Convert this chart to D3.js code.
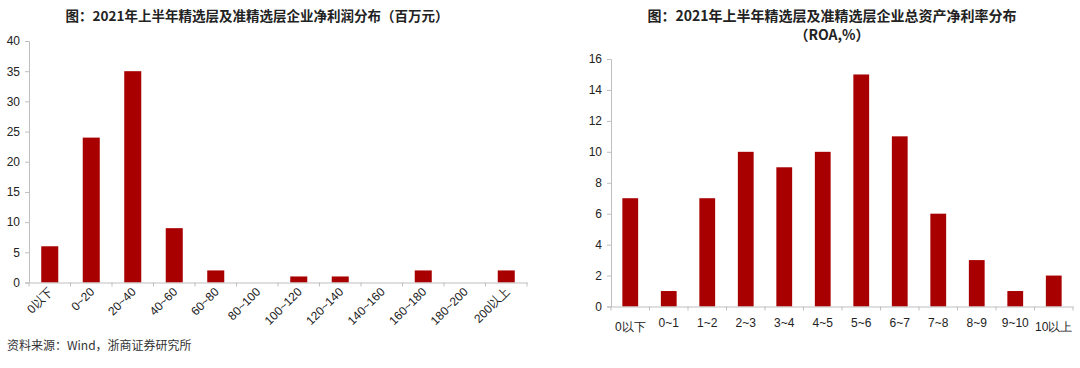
<!DOCTYPE html>
<html><head><meta charset="utf-8">
<script src="https://cdn.jsdelivr.net/npm/d3@7"></script>
<style>
body{margin:0;background:#fff;}
svg{display:block;font-family:"Liberation Sans",Arial,"Noto Sans CJK SC",sans-serif;}
</style></head>
<body><svg id="c" width="1080" height="368"></svg>
<script>
const profitCats = ["0以下","0~20","20~40","40~60","60~80","80~100","100~120","120~140","140~160","160~180","180~200","200以上"];
const profitVals = [6,24,35,9,2,0,1,1,0,2,0,2];
const profitTicks = [0,5,10,15,20,25,30,35,40];

const roaCats = ["0以下","0~1","1~2","2~3","3~4","4~5","5~6","6~7","7~8","8~9","9~10","10以上"];
const roaVals = [7,1,7,10,9,10,15,11,6,3,1,2];
const roaTicks = [0,2,4,6,8,10,12,14,16];

const titleL = "图：2021年上半年精选层及准精选层企业净利润分布（百万元）";
const titleR1 = "图：2021年上半年精选层及准精选层企业总资产净利率分布";
const titleR2 = "（ROA,%）";
const source = "资料来源：Wind，浙商证券研究所";

const svg = d3.select("#c");
const BAR = "#a80000", AX = "#bfbfbf", TXT = "#222";
const cjk = "'Noto Sans CJK SC',sans-serif";

function chart(cats, vals, ticks, box, rotate){
  const x = d3.scaleBand().domain(cats).range([box.x0, box.x1]).paddingInner(0.59).paddingOuter(0.295);
  const y = d3.scaleLinear().domain([0, d3.max(ticks)]).range([box.y0, box.y1]);
  const g = svg.append("g");
  g.selectAll("rect.bar").data(cats).join("rect")
    .attr("x", d=>x(d)).attr("width", x.bandwidth())
    .attr("y", (d,i)=>y(vals[i])).attr("height", (d,i)=>y(0)-y(vals[i]))
    .attr("fill", BAR);
  const ya = d3.axisLeft(y).tickValues(ticks).tickSize(4).tickPadding(5);
  const yg = g.append("g").attr("transform",`translate(${box.x0},0)`).call(ya);
  yg.select(".domain").attr("stroke",AX);
  yg.selectAll(".tick line").attr("stroke",AX);
  yg.selectAll("text").attr("fill",TXT).style("font-size","12px");
  const xa = d3.axisBottom(x).tickSize(0).tickSizeOuter(0);
  const xg = g.append("g").attr("transform",`translate(0,${box.y0})`).call(xa);
  xg.select(".domain").attr("stroke",AX);
  const bounds = d3.range(cats.length+1).map(i=>box.x0 + i*(box.x1-box.x0)/cats.length);
  xg.selectAll("line.bt").data(bounds).join("line").attr("class","bt")
    .attr("x1",d=>d).attr("x2",d=>d).attr("y1",0).attr("y2",4).attr("stroke",AX);
  xg.selectAll(".tick text").attr("fill",TXT).style("font-size","12px");
  if(rotate){
    xg.selectAll(".tick text")
      .attr("text-anchor","end").attr("dy","0").attr("y",0)
      .attr("transform","translate(4,10) rotate(-45)");
  } else {
    xg.selectAll(".tick text").attr("y",11)
      .attr("dy", d=>/[以]/.test(d) ? "1.1em" : "0.75em");
  }
}

chart(profitCats, profitVals, profitTicks, {x0:29, x1:527, y0:282.5, y1:41}, true);
chart(roaCats, roaVals, roaTicks, {x0:611, x1:1073, y0:306.5, y1:59}, false);

svg.append("text").attr("x",257).attr("y",21).attr("text-anchor","middle")
  .style("font-family",cjk).style("font-weight","bold").style("font-size","13.5px").attr("fill",TXT).text(titleL);
svg.append("text").attr("x",832).attr("y",21).attr("text-anchor","middle")
  .style("font-family",cjk).style("font-weight","bold").style("font-size","14px").attr("fill",TXT).text(titleR1);
svg.append("text").attr("x",832).attr("y",40).attr("text-anchor","middle")
  .style("font-family",cjk).style("font-weight","bold").style("font-size","14px").attr("fill",TXT).text(titleR2);
svg.append("text").attr("x",7).attr("y",350)
  .style("font-family","'Noto Sans CJK SC',monospace").style("font-size","12px").attr("fill","#333").text(source);
</script></body></html>
